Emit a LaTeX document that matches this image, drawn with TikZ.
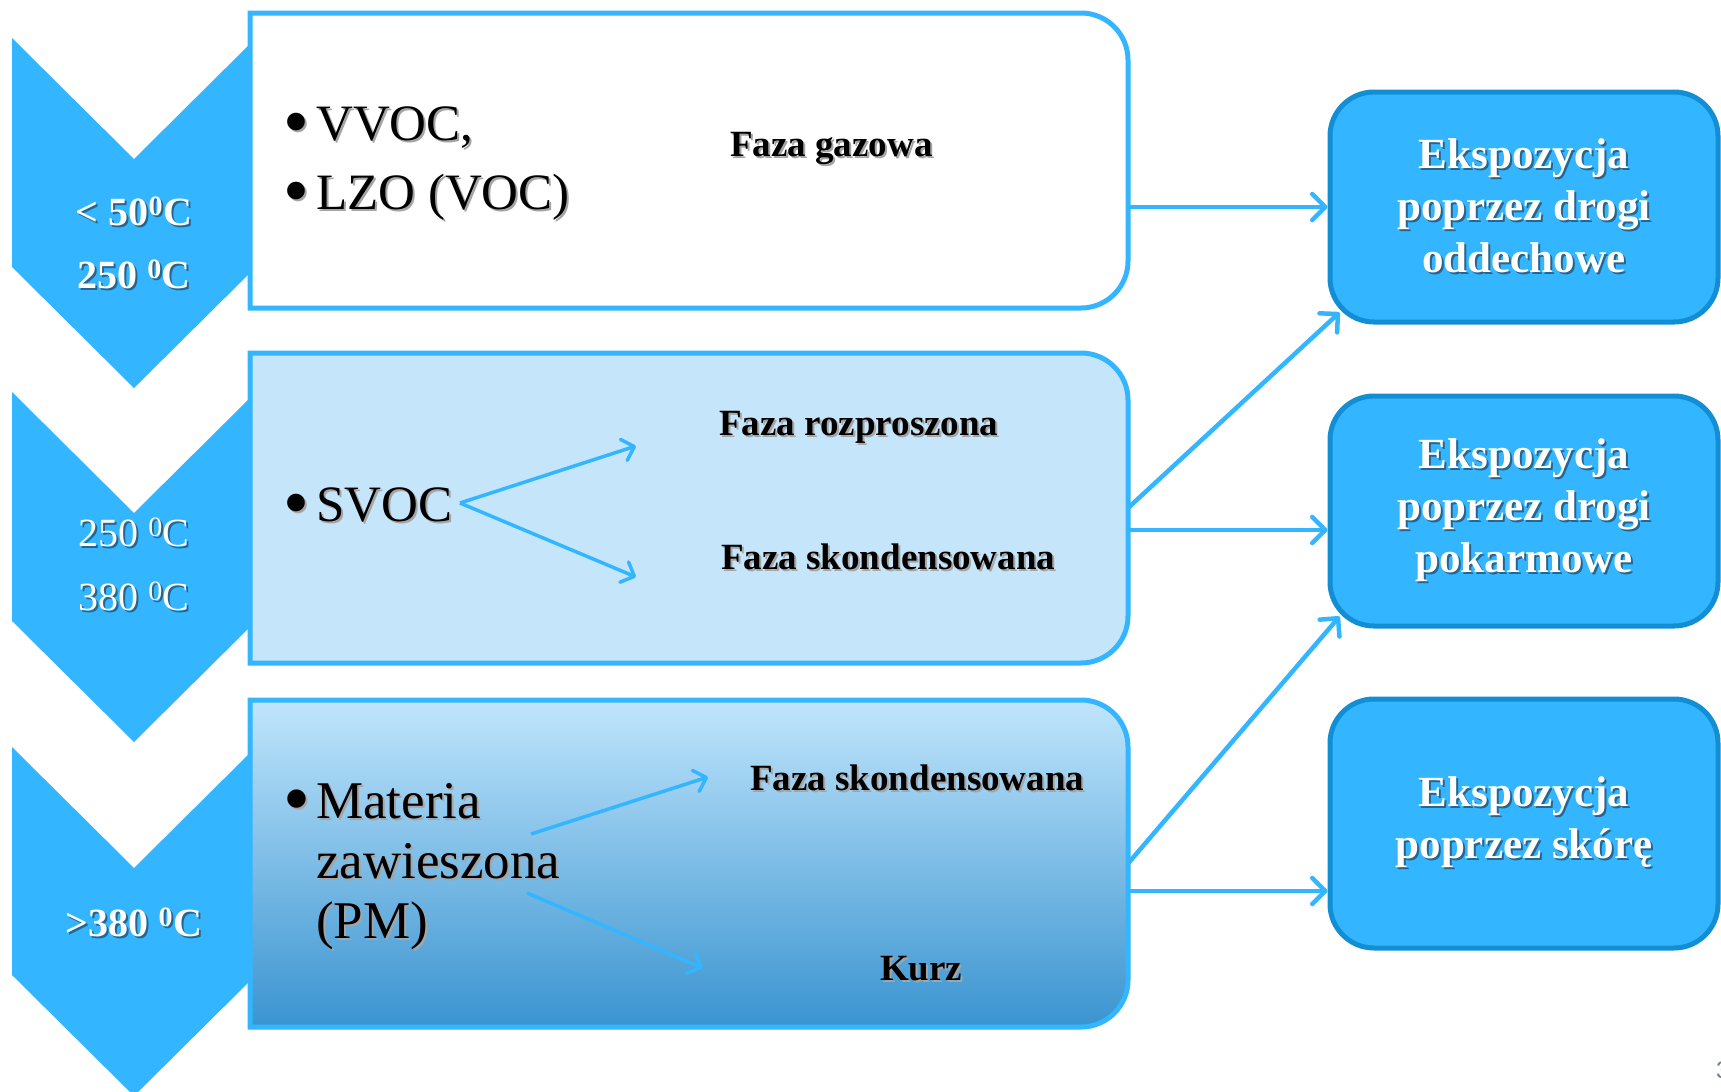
\documentclass[tikz,border=0pt]{standalone}
\usepackage{fontspec}
\setmainfont{Liberation Serif}
\setsansfont{Liberation Sans}
\usetikzlibrary{arrows.meta}

\definecolor{chevblue}{RGB}{51,182,255}
\definecolor{frameblue}{RGB}{51,182,255}
\definecolor{exbox}{RGB}{51,182,255}
\definecolor{exline}{RGB}{18,142,212}
\definecolor{paleblue}{RGB}{197,230,250}
\definecolor{gradtop}{RGB}{192,229,252}
\definecolor{gradbot}{RGB}{58,148,208}
\definecolor{shadegray}{RGB}{165,165,165}
\definecolor{shadeblue}{RGB}{40,100,140}
\definecolor{pagegray}{RGB}{120,125,140}

% text with a soft offset shadow
\newcommand\dropshade[2]{\leavevmode\rlap{\kern2pt\raisebox{-2pt}{\textcolor{#1}{#2}}}#2}
% enlarged list bullet followed by its gap
\newcommand\bigdot{\makebox[33pt][l]{\raisebox{-6pt}{\scalebox{1.45}{•}}}}

% box with square left corners and rounded right corners, built on a node
\newcommand\halfbox[2]{%
  \path[#1] (#2.north west) -- ([xshift=-47pt]#2.north east)
    arc[start angle=-90,end angle=0,radius=47]
    -- ([yshift=47pt]#2.south east)
    arc[start angle=0,end angle=90,radius=47]
    -- (#2.south west) -- cycle;}

\begin{document}
\begin{tikzpicture}[x=1pt,y=-1pt,
  chevron/.style={fill=chevblue},
  boxframe/.style={draw=frameblue,line width=5pt},
  zone/.style={minimum width=878pt,inner sep=0pt,outer sep=0pt},
  exposure/.style={rectangle,rounded corners=44pt,fill=exbox,draw=exline,
    line width=5pt,minimum width=388pt,text=white,align=center,
    font=\fontsize{43}{52}\selectfont\bfseries},
  templabel/.style={text=white,anchor=base,inner sep=0pt,font=\fontsize{40}{48}\selectfont},
  bulletline/.style={anchor=base west,inner sep=0pt,font=\fontsize{51}{60}\selectfont},
  pmline/.style={anchor=base west,inner sep=0pt,font=\fontsize{53}{60}\selectfont},
  phaselabel/.style={anchor=base west,inner sep=0pt,font=\fontsize{37}{44}\selectfont\bfseries},
  link/.style={draw=frameblue,line width=4.5pt,-{Straight Barb[length=13pt,width=26pt,round]}},
  branch/.style={draw=frameblue,line width=3.5pt,-{Straight Barb[length=11pt,width=22pt,round]}},
]
\useasboundingbox (0,0) rectangle (1721,1092);

% temperature chevrons
\fill[chevron] (12,38) -- (134,159) -- (256,38) -- (256,267) -- (134,388) -- (12,267) -- cycle;
\fill[chevron] (12,392) -- (134,513) -- (256,392) -- (256,621) -- (134,742) -- (12,621) -- cycle;
\fill[chevron] (12,747) -- (134,868) -- (256,747) -- (256,975) -- (134,1096) -- (12,975) -- cycle;

% compound group boxes
\node[zone,minimum height=295pt] (b1) at (689,160.5) {};
\node[zone,minimum height=310pt] (b2) at (689,508) {};
\node[zone,minimum height=327pt] (b3) at (689,863.5) {};
\halfbox{boxframe,fill=white}{b1}
\halfbox{boxframe,fill=paleblue}{b2}
\halfbox{boxframe,top color=gradtop,bottom color=gradbot}{b3}

% temperature labels
\node[templabel,font=\fontsize{40}{48}\selectfont\bfseries] (t1a) at (134,225) {\dropshade{shadeblue}{< 50\textsuperscript{0}C}};
\node[templabel,font=\fontsize{40}{48}\selectfont\bfseries] (t1b) at (134,288) {\dropshade{shadeblue}{250 \textsuperscript{0}C}};
\node[templabel] (t2a) at (134,546) {\dropshade{shadeblue}{250 \textsuperscript{0}C}};
\node[templabel] (t2b) at (134,610) {\dropshade{shadeblue}{380 \textsuperscript{0}C}};
\node[templabel,font=\fontsize{40}{48}\selectfont\bfseries] (t3) at (134,936) {\dropshade{shadeblue}{>380 \textsuperscript{0}C}};

% compound groups
\node[bulletline] (vvoc) at (283,140) {\dropshade{shadegray}{\bigdot VVOC,}};
\node[bulletline] (lzo) at (283,209) {\dropshade{shadegray}{\bigdot LZO (VOC)}};
\node[bulletline] (svoc) at (283,521) {\dropshade{shadegray}{\bigdot SVOC}};
\node[pmline] (pm1) at (283,818) {\dropshade{shadegray}{\bigdot Materia}};
\node[pmline] (pm2) at (316,878) {\dropshade{shadegray}{zawieszona}};
\node[pmline] (pm3) at (316,938) {\dropshade{shadegray}{(PM)}};

% phase labels
\node[phaselabel] (gas) at (730,156) {\dropshade{shadegray}{Faza gazowa}};
\node[phaselabel] (disp) at (719,435) {\dropshade{shadegray}{Faza rozproszona}};
\node[phaselabel] (cond1) at (721,569) {\dropshade{shadegray}{Faza skondensowana}};
\node[phaselabel] (cond2) at (750,790) {\dropshade{shadegray}{Faza skondensowana}};
\node[phaselabel] (dust) at (880,980) {\dropshade{shadegray}{Kurz}};

% branching arrows inside the boxes
\coordinate (sv) at (460,503);
\coordinate (svup) at (636,446);
\coordinate (svdn) at (636,577);
\draw[branch] (sv) -- (svup);
\draw[branch] (sv) -- (svdn);
\coordinate (pmas) at (531,834);
\coordinate (pmae) at (708,777);
\coordinate (pmbs) at (527,893);
\coordinate (pmbe) at (703,968);
\draw[branch] (pmas) -- (pmae);
\draw[branch] (pmbs) -- (pmbe);

% exposure routes
\node[exposure,minimum height=230pt] (ea) at (1524,207)
  {\dropshade{shadeblue}{Ekspozycja}\\\dropshade{shadeblue}{poprzez drogi}\\\dropshade{shadeblue}{oddechowe}};
\node[exposure,minimum height=230pt] (eb) at (1524,511)
  {\dropshade{shadeblue}{Ekspozycja}\\\dropshade{shadeblue}{poprzez drogi}\\\dropshade{shadeblue}{pokarmowe}};
\node[exposure,minimum height=249pt] (ec) at (1524,823.5)
  {\dropshade{shadeblue}{Ekspozycja}\\\dropshade{shadeblue}{poprzez skórę}};

% connectors
\coordinate (p2) at (1128,530);
\coordinate (p3) at (1128,891);
\draw[link] (b1.east |- ea.west) -- (ea.west);
\draw[link] (b2.east) -- ([xshift=12pt,yshift=12pt]ea.south west);
\draw[link] (p2) -- (p2 -| eb.west);
\draw[link] (b3.east) -- ([xshift=12pt,yshift=12pt]eb.south west);
\draw[link] (p3) -- (p3 -| ec.west);

% slide number
\node[anchor=base west,inner sep=0pt,text=pagegray,font=\sffamily\fontsize{24}{28}\selectfont] (pg) at (1716,1078) {3};
\end{tikzpicture}
\end{document}
